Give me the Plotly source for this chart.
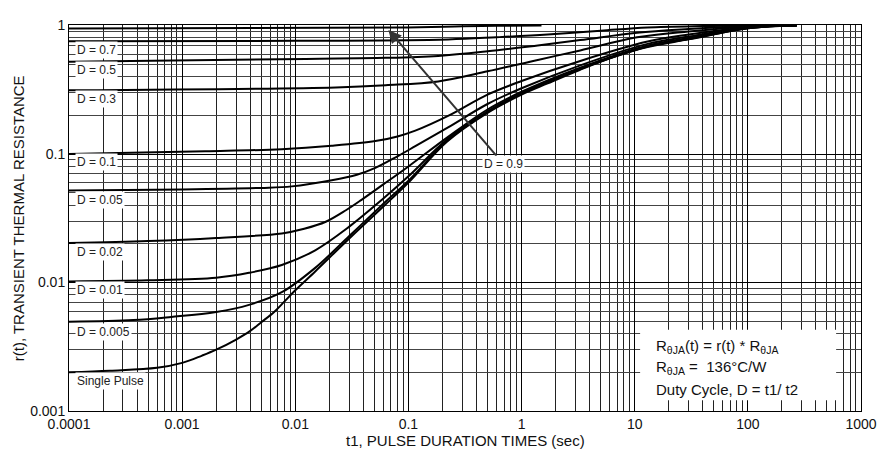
import numpy as np
import plotly.graph_objects as go

# ---- data ----
x_tickvals = [1e-4, 1e-3, 1e-2, 1e-1, 1, 10, 100, 1000]
x_ticktext = ["0.0001", "0.001", "0.01", "0.1", "1", "10", "100", "1000"]
y_tickvals = [0.001, 0.01, 0.1, 1]
y_ticktext = ["0.001", "0.01", "0.1", "1"]

t_single = [1e-4, 2.3e-4, 6e-4, 1e-3, 1.5e-3, 2e-3, 3e-3, 4e-3, 5e-3, 6.5e-3, 8e-3, 0.01, 0.015, 0.03, 0.06, 0.1, 0.22, 0.5, 1.0, 1.7, 3.3, 6.6, 13, 30, 100, 200, 270]
r_single = [0.002, 0.00206, 0.00217, 0.00237, 0.0027, 0.003, 0.0036, 0.0042, 0.0049, 0.0059, 0.0071, 0.0087, 0.0122, 0.022, 0.039, 0.06, 0.125, 0.209, 0.29, 0.355, 0.453, 0.57, 0.68, 0.78, 0.95, 0.995, 1.0]

t_d0005 = [1e-4, 3.7e-4, 8e-4, 2e-3, 3.9e-3, 7.6e-3, 0.015, 0.03, 0.06, 0.1, 0.22, 0.5, 1, 3.3, 13, 30, 100, 200, 270]
r_d0005 = [0.00495, 0.0051, 0.0054, 0.0059, 0.0067, 0.0084, 0.013, 0.023, 0.041, 0.062, 0.127, 0.212, 0.294, 0.458, 0.685, 0.785, 0.952, 0.996, 1.0]

t_d001 = [1e-4, 5e-4, 2e-3, 3.9e-3, 7.6e-3, 0.015, 0.03, 0.06, 0.1, 0.22, 0.5, 1, 3.3, 13, 30, 100, 200, 270]
r_d001 = [0.0102, 0.0104, 0.0109, 0.0119, 0.0137, 0.0178, 0.0272, 0.045, 0.067, 0.13, 0.215, 0.298, 0.462, 0.69, 0.79, 0.955, 0.996, 1.0]

t_d002 = [1e-4, 5e-4, 2e-3, 7.6e-3, 0.012, 0.0186, 0.028, 0.0385, 0.06, 0.1, 0.224, 0.5, 1, 3.3, 13, 30, 100, 200, 270]
r_d002 = [0.0203, 0.021, 0.0222, 0.0241, 0.0262, 0.0297, 0.0365, 0.044, 0.058, 0.08, 0.136, 0.222, 0.305, 0.47, 0.70, 0.80, 0.96, 0.997, 1.0]

t_d005 = [1e-4, 1e-3, 5e-3, 0.0093, 0.021, 0.035, 0.051, 0.08, 0.115, 0.224, 0.5, 1, 3.3, 13, 30, 100, 200, 270]
r_d005 = [0.052, 0.053, 0.0545, 0.056, 0.0625, 0.069, 0.078, 0.096, 0.115, 0.161, 0.245, 0.325, 0.49, 0.72, 0.82, 0.965, 0.997, 1.0]

t_d01 = [1e-4, 1.6e-3, 7.6e-3, 0.021, 0.051, 0.08, 0.115, 0.224, 0.5, 1, 3.3, 13, 30, 100, 200, 270]
r_d01 = [0.1, 0.105, 0.109, 0.116, 0.126, 0.137, 0.152, 0.198, 0.29, 0.37, 0.53, 0.75, 0.85, 0.97, 0.998, 1.0]

t_d03 = [1e-4, 0.0228, 0.063, 0.183, 0.5, 1.39, 3.3, 10.5, 30, 100, 200, 270]
r_d03 = [0.313, 0.33, 0.343, 0.367, 0.44, 0.54, 0.64, 0.81, 0.9, 0.98, 0.998, 1.0]

t_d05 = [1e-4, 0.0124, 0.063, 0.183, 0.5, 1.39, 3.3, 10.5, 30, 100, 200]
r_d05 = [0.522, 0.55, 0.56, 0.58, 0.63, 0.70, 0.77, 0.88, 0.94, 0.99, 1.0]

t_d07 = [1e-4, 0.01, 0.224, 0.6, 1.7, 5, 12.9, 40, 100]
r_d07 = [0.755, 0.76, 0.78, 0.81, 0.85, 0.91, 0.965, 0.99, 1.0]

t_d09 = [1e-4, 0.08, 0.3, 0.6, 1.5]
r_d09 = [0.95, 0.965, 0.985, 0.995, 1.0]

curve_names = ["D = 0.9", "D = 0.7", "D = 0.5", "D = 0.3", "D = 0.1", "D = 0.05",
               "D = 0.02", "D = 0.01", "D = 0.005", "Single Pulse"]
curve_t = [t_d09, t_d07, t_d05, t_d03, t_d01, t_d005, t_d002, t_d001, t_d0005, t_single]
curve_r = [r_d09, r_d07, r_d05, r_d03, r_d01, r_d005, r_d002, r_d001, r_d0005, r_single]

# left-side label names and their vertical positions (log10 r)
label_names = ["D = 0.7", "D = 0.5", "D = 0.3", "D = 0.1", "D = 0.05",
               "D = 0.02", "D = 0.01", "D = 0.005", "Single Pulse"]
label_ylog = [-0.194, -0.347, -0.575, -1.063, -1.360, -1.764, -2.062, -2.389, -2.770]

FONT = "Liberation Sans, Arial, sans-serif"

fig = go.Figure()
for name, t, r in zip(curve_names, curve_t, curve_r):
    fig.add_trace(go.Scatter(x=t, y=r, mode="lines", name=name,
                             line=dict(color="black", width=2, shape="spline", smoothing=1.0),
                             showlegend=False, hoverinfo="skip"))

annotations = []
for name, yl in zip(label_names, label_ylog):
    annotations.append(dict(text=name, xref="paper", yref="y", x=0.008, y=yl,
                            xanchor="left", yanchor="middle", showarrow=False,
                            bgcolor="white", borderpad=1,
                            font=dict(family=FONT, size=12, color="#222")))

# D = 0.9 arrow label
annotations.append(dict(text="D = 0.9", xref="x", yref="y", x=-1.177, y=-0.034,
                        ax=115, ay=134, showarrow=True, arrowhead=2, arrowsize=1.3,
                        arrowwidth=2, arrowcolor="#333", bgcolor="white", borderpad=1,
                        font=dict(family=FONT, size=12, color="#222")))

# info box text
info_lines = ["R<sub>θJA</sub>(t) = r(t) * R<sub>θJA</sub>",
              "R<sub>θJA</sub> =  136°C/W",
              "Duty Cycle, D = t1/ t2"]
info_py = [345, 367, 389]
for txt, py in zip(info_lines, info_py):
    annotations.append(dict(text=txt, xref="paper", yref="paper",
                            x=(657 - 69) / 796, y=(411 - py) / 394,
                            xanchor="left", yanchor="middle", showarrow=False,
                            font=dict(family=FONT, size=15, color="#111")))

# axis titles
annotations.append(dict(text="r(t), TRANSIENT THERMAL RESISTANCE", xref="paper", yref="paper",
                        x=(18 - 69) / 796, y=0.5, textangle=-90, showarrow=False,
                        xanchor="center", yanchor="middle",
                        font=dict(family=FONT, size=15, color="#111")))
annotations.append(dict(text="t1, PULSE DURATION TIMES (sec)", xref="paper", yref="paper",
                        x=0.5, y=(411 - 441) / 394, showarrow=False,
                        xanchor="center", yanchor="middle",
                        font=dict(family=FONT, size=15, color="#111")))

shapes = [dict(type="rect", xref="paper", yref="paper",
               x0=(643 - 69) / 796, x1=(840 - 69) / 796,
               y0=(411 - 400) / 394, y1=(411 - 328) / 394,
               fillcolor="white", line=dict(width=0), layer="above")]

# the page body has an 8px margin; size/offset the figure so the plot area
# lands at the same window pixels as the reference
fig.update_layout(
    width=878, height=445,
    margin=dict(l=61, r=21, t=9, b=42),
    paper_bgcolor="white", plot_bgcolor="white",
    annotations=annotations, shapes=shapes,
    font=dict(family=FONT, size=14, color="#111"),
)
fig.update_xaxes(type="log", range=[-4, 3], tickmode="array",
                 tickvals=x_tickvals, ticktext=x_ticktext,
                 showgrid=True, gridcolor="#000", gridwidth=1,
                 minor=dict(dtick="D1", showgrid=True, gridcolor="#222", gridwidth=1, ticks=""),
                 showline=True, linecolor="black", linewidth=1, mirror=True,
                 ticks="", zeroline=False,
                 tickfont=dict(family=FONT, size=14, color="#111"))
fig.update_yaxes(type="log", range=[-3, 0.004], tickmode="array",
                 tickvals=y_tickvals, ticktext=y_ticktext,
                 showgrid=True, gridcolor="#000", gridwidth=1,
                 minor=dict(dtick="D1", showgrid=True, gridcolor="#444", gridwidth=1, ticks=""),
                 showline=True, linecolor="black", linewidth=1, mirror=True,
                 ticks="", zeroline=False,
                 tickfont=dict(family=FONT, size=14, color="#111"))

fig.write_html("out.html")
